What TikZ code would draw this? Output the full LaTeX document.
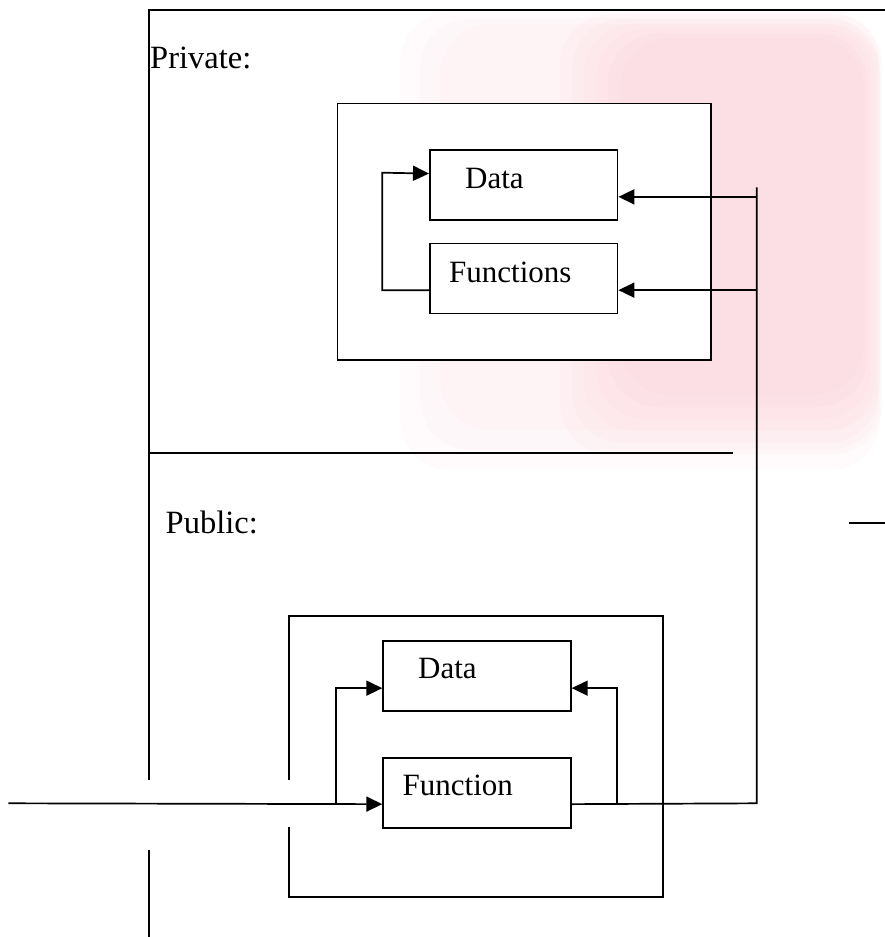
\documentclass[tikz,border=0pt]{standalone}
\usepackage{fontspec}
\setmainfont{Liberation Serif}
\usetikzlibrary{arrows.meta}
\definecolor{sealpink}{RGB}{250,200,208}
\begin{document}
\begin{tikzpicture}[x=1pt,y=-1pt,
  wire/.style={line width=1.7pt},
  box/.style={draw, fill=white, line width=1.7pt, inner sep=0pt, anchor=north west},
  tip/.style={-{Triangle[length=16pt,width=15pt]}},
  lbl/.style={font=\fontsize{32.5}{36}\selectfont, inner sep=0pt, anchor=base west},
  txt/.style={font=\fontsize{31}{34}\selectfont, inner sep=0pt, anchor=base west},
  haze/.style={fill=sealpink, opacity=0.1}]
\useasboundingbox (0,0) rectangle (885,937);

% faint seal in the background, built up in soft layers
\foreach \d in {0,12,24,36,48,60} {
  \fill[haze, rounded corners=50pt] (560+\d,14+\d*0.4) rectangle (882-\d*0.3,455-\d);
}
\foreach \d in {0,20,40} {
  \fill[haze, opacity=0.07, rounded corners=50pt] (400+\d,12+\d*0.3) rectangle (880,470-\d);
}

% class outline
\coordinate (tl) at (149,10);
\coordinate (tr) at (885,10);
\coordinate (lgapTop) at (149,780);
\coordinate (lgapBot) at (149,850);
\coordinate (lend) at (149,937);
\coordinate (divL) at (149,453);
\coordinate (divR) at (733,453);
\coordinate (stubL) at (849,523);
\coordinate (stubR) at (885,523);
\draw[wire] (tr) -- (tl) -- (lgapTop);
\draw[wire] (lgapBot) -- (lend);
\draw[wire] (divL) -- (divR);
\draw[wire] (stubL) -- (stubR);

\node[lbl] (privLbl) at (150,68) {Private:};
\node[lbl] (pubLbl) at (165.5,533.5) {Public:};

% private part
\node[box, minimum width=373.3pt, minimum height=256.6pt] (priv) at (336.7,102.7) {};
\node[box, minimum width=187.7pt, minimum height=70pt] (pd) at (429,149.3) {};
\node[box, minimum width=187.7pt, minimum height=70pt] (pf) at (429,242.7) {};
\node[txt] (pdTxt) at (465,188.3) {Data};
\node[txt] (pfTxt) at (449,282.7) {Functions};

% public part
\coordinate (pubA) at (288.7,780);
\coordinate (pubB) at (288.7,826.7);
\draw[wire] (pubA) -- (288.7,616) -- (663.3,616) -- (663.3,896.7) -- (288.7,896.7) -- (pubB);
\node[box, minimum width=187.7pt, minimum height=70pt] (ud) at (382.3,640) {};
\node[box, minimum width=187.7pt, minimum height=70pt] (uf) at (382.3,757) {};
\node[txt] (udTxt) at (418,678.3) {Data};
\node[txt] (ufTxt) at (402.5,795) {Function};

% port points on the boxes
\coordinate (pdIn) at ([yshift=11.6pt]pd.west);
\coordinate (pdR) at ([yshift=-11.7pt]pd.east);
\coordinate (pfOut) at ([yshift=-11.6pt]pf.west);
\coordinate (pfR) at ([yshift=-11.6pt]pf.east);
\coordinate (udL) at ([yshift=-12.3pt]ud.west);
\coordinate (udR) at ([yshift=-12.3pt]ud.east);
\coordinate (ufL) at ([yshift=-11.3pt]uf.west);
\coordinate (ufR) at ([yshift=-11.3pt]uf.east);

% connectors
\coordinate (in) at (8.3,803.3);
\coordinate (loopX) at (382.3,172.7);
\coordinate (busTop) at (756.7,187.3);
\coordinate (busBot) at (756.7,803.3);
\coordinate (forkL) at (335.7,803.3);
\coordinate (forkR) at (616.7,803.3);

\draw[wire, tip] (pfOut) -| (loopX) -- (pdIn);
\draw[wire] (ufR) -- (busBot) -- (busTop);
\draw[wire, tip] (busTop |- pdR) -- (pdR);
\draw[wire, tip] (busTop |- pfR) -- (pfR);
\draw[wire, tip] (in) -- (ufL);
\draw[wire, tip] (forkL) |- (udL);
\draw[wire, tip] (forkR) |- (udR);
\end{tikzpicture}
\end{document}
